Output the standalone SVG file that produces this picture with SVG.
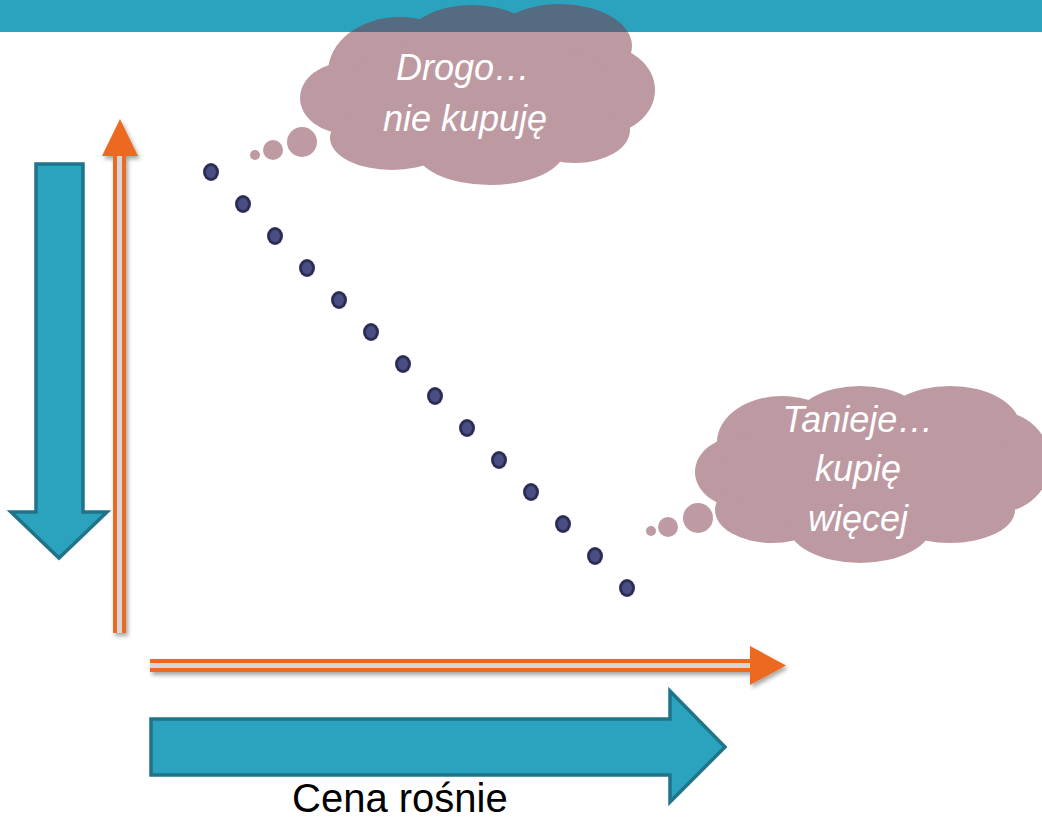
<svg xmlns="http://www.w3.org/2000/svg" width="1042" height="819" viewBox="0 0 1042 819">
<style>
.bigarrow{fill:#2CA3BE;stroke:#1F7489;stroke-width:3.5;stroke-linejoin:miter}
.oline{stroke:#EC6920;stroke-width:13;fill:none}
.oinner{stroke:#D6D6D6;stroke-width:5;fill:none}
.ohead{fill:#EC6920}
.cloud{fill:#7D3545;opacity:0.5}
.bub{fill:#7D3545;opacity:0.5}
.ct{font-family:"Liberation Sans",Arial,sans-serif;font-style:italic;font-size:36px;fill:#FFFFFF;text-anchor:middle}
.dot{fill:#2B2D52}
.doti{fill:#4A4F82}
</style>
<defs>
<filter id="sh" x="-20%" y="-20%" width="140%" height="140%">
<feDropShadow dx="2" dy="3" stdDeviation="2" flood-color="#000" flood-opacity="0.35"/>
</filter>
</defs>
<rect x="0" y="0" width="1042" height="32" fill="#2CA3BE"/>

<g id="connectors">
<g id="axis-up" filter="url(#sh)">
<line class="oline" x1="119.5" y1="633" x2="119.5" y2="154"/>
<line class="oinner" x1="119.5" y1="633" x2="119.5" y2="156"/>
<polygon class="ohead" points="102,156 138,156 120,119"/>
</g>
<g id="axis-right" filter="url(#sh)">
<line class="oline" x1="150" y1="665.5" x2="752" y2="665.5"/>
<line class="oinner" x1="150" y1="665.5" x2="750" y2="665.5"/>
<polygon class="ohead" points="750,646 750,685 786,665.5"/>
</g>
</g>

<g id="arrow-down">
<polygon class="bigarrow" points="36,164 83,164 83,512 107,512 59,558 11,512 36,512"/>
</g>
<g id="arrow-right">
<polygon class="bigarrow" points="151,719 670,719 670,691 725,747 670,802 670,775 151,775"/>
<text x="292" y="812" font-family="Liberation Sans, Arial, sans-serif" font-size="40" fill="#000">Cena rośnie</text>
</g>

<g id="demand-dots">
<g id="d1"><ellipse class="dot" cx="211" cy="172" rx="8" ry="9"/><ellipse class="doti" cx="211" cy="172" rx="5" ry="6"/></g>
<g id="d2"><ellipse class="dot" cx="243" cy="204" rx="8" ry="9"/><ellipse class="doti" cx="243" cy="204" rx="5" ry="6"/></g>
<g id="d3"><ellipse class="dot" cx="275" cy="236" rx="8" ry="9"/><ellipse class="doti" cx="275" cy="236" rx="5" ry="6"/></g>
<g id="d4"><ellipse class="dot" cx="307" cy="268" rx="8" ry="9"/><ellipse class="doti" cx="307" cy="268" rx="5" ry="6"/></g>
<g id="d5"><ellipse class="dot" cx="339" cy="300" rx="8" ry="9"/><ellipse class="doti" cx="339" cy="300" rx="5" ry="6"/></g>
<g id="d6"><ellipse class="dot" cx="371" cy="332" rx="8" ry="9"/><ellipse class="doti" cx="371" cy="332" rx="5" ry="6"/></g>
<g id="d7"><ellipse class="dot" cx="403" cy="364" rx="8" ry="9"/><ellipse class="doti" cx="403" cy="364" rx="5" ry="6"/></g>
<g id="d8"><ellipse class="dot" cx="435" cy="396" rx="8" ry="9"/><ellipse class="doti" cx="435" cy="396" rx="5" ry="6"/></g>
<g id="d9"><ellipse class="dot" cx="467" cy="428" rx="8" ry="9"/><ellipse class="doti" cx="467" cy="428" rx="5" ry="6"/></g>
<g id="d10"><ellipse class="dot" cx="499" cy="460" rx="8" ry="9"/><ellipse class="doti" cx="499" cy="460" rx="5" ry="6"/></g>
<g id="d11"><ellipse class="dot" cx="531" cy="492" rx="8" ry="9"/><ellipse class="doti" cx="531" cy="492" rx="5" ry="6"/></g>
<g id="d12"><ellipse class="dot" cx="563" cy="524" rx="8" ry="9"/><ellipse class="doti" cx="563" cy="524" rx="5" ry="6"/></g>
<g id="d13"><ellipse class="dot" cx="595" cy="556" rx="8" ry="9"/><ellipse class="doti" cx="595" cy="556" rx="5" ry="6"/></g>
<g id="d14"><ellipse class="dot" cx="627" cy="588" rx="8" ry="9"/><ellipse class="doti" cx="627" cy="588" rx="5" ry="6"/></g>
</g>

<g id="cloud-expensive">
<g class="cloud">
<ellipse cx="400" cy="72" rx="72" ry="55"/>
<ellipse cx="472" cy="45" rx="68" ry="40"/>
<ellipse cx="560" cy="46" rx="72" ry="42"/>
<ellipse cx="600" cy="90" rx="55" ry="45"/>
<ellipse cx="348" cy="98" rx="48" ry="36"/>
<ellipse cx="392" cy="138" rx="62" ry="32"/>
<ellipse cx="490" cy="149" rx="75" ry="36"/>
<ellipse cx="575" cy="130" rx="55" ry="33"/>
<ellipse cx="480" cy="95" rx="140" ry="60"/>
</g>
<circle class="bub" cx="302" cy="142" r="15"/>
<circle class="bub" cx="273" cy="150" r="10"/>
<circle class="bub" cx="255" cy="155" r="5"/>
<text class="ct" x="463" y="80">Drogo…</text>
<text class="ct" x="465" y="131">nie kupuję</text>
</g>

<g id="cloud-cheap">
<g class="cloud">
<ellipse cx="782" cy="442" rx="65" ry="46"/>
<ellipse cx="860" cy="422" rx="65" ry="36"/>
<ellipse cx="950" cy="427" rx="70" ry="41"/>
<ellipse cx="1000" cy="462" rx="50" ry="50"/>
<ellipse cx="742" cy="472" rx="47" ry="36"/>
<ellipse cx="772" cy="510" rx="57" ry="33"/>
<ellipse cx="860" cy="525" rx="72" ry="38"/>
<ellipse cx="950" cy="510" rx="65" ry="33"/>
<ellipse cx="870" cy="470" rx="150" ry="60"/>
</g>
<circle class="bub" cx="698" cy="518" r="15"/>
<circle class="bub" cx="668" cy="527" r="10"/>
<circle class="bub" cx="651" cy="531" r="5"/>
<text class="ct" x="858" y="432">Tanieje…</text>
<text class="ct" x="858" y="481">kupię</text>
<text class="ct" x="858" y="531">więcej</text>
</g>
</svg>
